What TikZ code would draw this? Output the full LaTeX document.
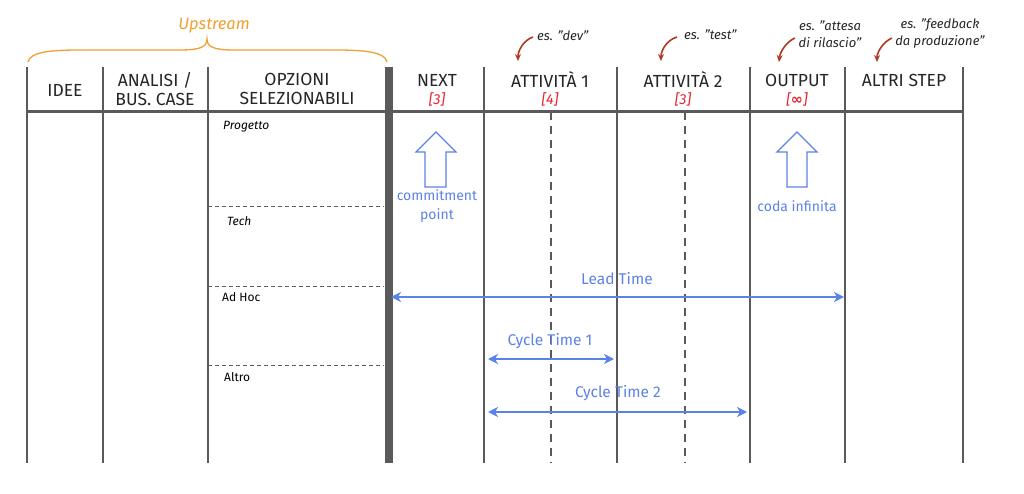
\documentclass[tikz,border=0pt]{standalone}
\usepackage{fontspec}
\setmainfont{Fira Sans}
\newfontfamily\dejavu{DejaVu Sans}
\usetikzlibrary{arrows.meta}
\definecolor{gridgray}{HTML}{5A5A5A}
\definecolor{flowblue}{HTML}{5B82E6}
\definecolor{upor}{HTML}{F0A030}
\definecolor{wipred}{HTML}{E8202A}
\definecolor{notebrown}{HTML}{B03A20}
\tikzset{
  col/.style={draw=gridgray, line width=2.4pt},
  thickcol/.style={draw=gridgray, line width=8pt},
  actdash/.style={draw=gridgray, line width=2pt, dash pattern=on 8pt off 6pt},
  optdash/.style={draw=gridgray, line width=1pt, dash pattern=on 4pt off 3pt},
  head/.style={font=\fontsize{17.5}{19}\selectfont, text=black!85, align=center, inner sep=0pt},
  wip/.style={font=\fontsize{14.5}{15}\selectfont\itshape, text=wipred, inner sep=0pt},
  opt/.style={font=\fontsize{12}{13}\selectfont, text=black, anchor=west, inner sep=0pt},
  optit/.style={opt, font=\fontsize{12}{13}\selectfont\itshape},
  note/.style={font=\fontsize{13}{17}\selectfont\itshape, text=black!85, align=center, inner sep=0pt},
  notearrow/.style={draw=notebrown, line width=1.6pt, -{Stealth[length=7pt,width=6pt]}},
  bluelbl/.style={font=\fontsize{15.5}{17}\selectfont, text=flowblue, align=center, inner sep=0pt},
  timearrow/.style={draw=flowblue, line width=2.6pt, {Stealth[length=10pt,width=10pt,inset=3pt]}-{Stealth[length=10pt,width=10pt,inset=3pt]}},
  blockarrow/.style={draw=flowblue, line width=1.3pt, fill=white},
}
\begin{document}
\begin{tikzpicture}[x=1pt,y=-1pt]
\useasboundingbox (0,0) rectangle (1024,494);
% header horizontal line
\draw[draw=gridgray, line width=3pt] (27,112) -- (963,112);
% vertical column lines
\foreach \x in {27,103,208,484,617,750,845,963}
  \draw[col] (\x,67) -- (\x,463);
\draw[thickcol] (388.5,67) -- (388.5,463);
% dashed sub-columns
\draw[actdash] (551,112) -- (551,463);
\draw[actdash] (685,112) -- (685,463);
% option separators
\foreach \y in {207,286,365}
  \draw[optdash] (208,\y) -- (384,\y);

% brace
\draw[draw=upor, line width=1.3pt] (28,62) .. controls (30,52) and (50,50) .. (80,50) -- (180,50)
  .. controls (200,50) and (207,47) .. (207,39) .. controls (207,47) and (214,50) .. (234,50) -- (335,50)
  .. controls (365,50) and (385,52) .. (387,62);
\node[font=\fontsize{16.5}{18}\selectfont\itshape, text=upor] (upstream) at (214,26) {Upstream};

% headers
\node[head] (idee) at (65,90) {IDEE};
\node[head] (analisi) at (155,89) {ANALISI /\\BUS. CASE};
\node[head] (opzioni) at (297,89) {OPZIONI\\SELEZIONABILI};
\node[head] (next) at (437,80) {NEXT};
\node[wip] (nextw) at (437,99) {[3]};
\node[head] (att1) at (550,80) {ATTIVITÀ 1};
\node[wip] (att1w) at (550,99) {[4]};
\node[head] (att2) at (683,80) {ATTIVITÀ 2};
\node[wip] (att2w) at (683,99) {[3]};
\node[head] (output) at (797,80) {OUTPUT};
\node[wip] (outw) at (797,99) {[{\dejavu\bfseries\upshape ∞}]};
\node[head] (altri) at (904,80) {ALTRI STEP};

% notes
\node[note, anchor=west] (ndev) at (537,36) {es. "dev"};
\node[note, anchor=west] (ntest) at (684,35) {es. "test"};
\node[note] (natt) at (830,34) {es. "attesa\\di rilascio"};
\node[note] (nfeed) at (940,34) {es. "feedback\\da produzione"};
\coordinate (tdev) at (518,61);
\coordinate (ttest) at (661,61);
\coordinate (tatt) at (779,62);
\coordinate (tfeed) at (877,62);
\draw[notearrow] (533,37) .. controls (524,40) and (518,50) .. (tdev);
\draw[notearrow] (677,37) .. controls (667,40) and (661,50) .. (ttest);
\draw[notearrow] (795,38) .. controls (786,42) and (780,52) .. (tatt);
\draw[notearrow] (892,38) .. controls (883,42) and (877,52) .. (tfeed);

% options
\node[optit] (prog) at (223,127) {Progetto};
\node[optit] (tech) at (227,221) {Tech};
\node[opt] (adhoc) at (222,297) {Ad Hoc};
\node[opt] (altro) at (224,377) {Altro};

% block arrows
\draw[blockarrow] (436,132) -- (456,152) -- (446,152) -- (446,187) -- (425,187) -- (425,152) -- (416,152) -- cycle;
\node[bluelbl, font=\fontsize{14}{19}\selectfont] (commit) at (437,206) {commitment\\point};
\draw[blockarrow] (797,132) -- (817,152) -- (807,152) -- (807,187) -- (787,187) -- (787,152) -- (777,152) -- cycle;
\node[bluelbl, font=\fontsize{14}{16}\selectfont] (coda) at (797,206) {coda infinita};

% time arrows
\coordinate (ltA) at (391,297);
\coordinate (ltB) at (844,297);
\draw[timearrow] (ltA) -- (ltB);
\node[bluelbl] (lead) at (617,279) {Lead Time};
\coordinate (c1A) at (488,359);
\coordinate (c1B) at (614,359);
\draw[timearrow] (c1A) -- (c1B);
\node[bluelbl] (ct1) at (550,341) {Cycle Time 1};
\coordinate (c2A) at (488,412);
\coordinate (c2B) at (747,412);
\draw[timearrow] (c2A) -- (c2B);
\node[bluelbl] (ct2) at (618,393) {Cycle Time 2};
\end{tikzpicture}
\end{document}
